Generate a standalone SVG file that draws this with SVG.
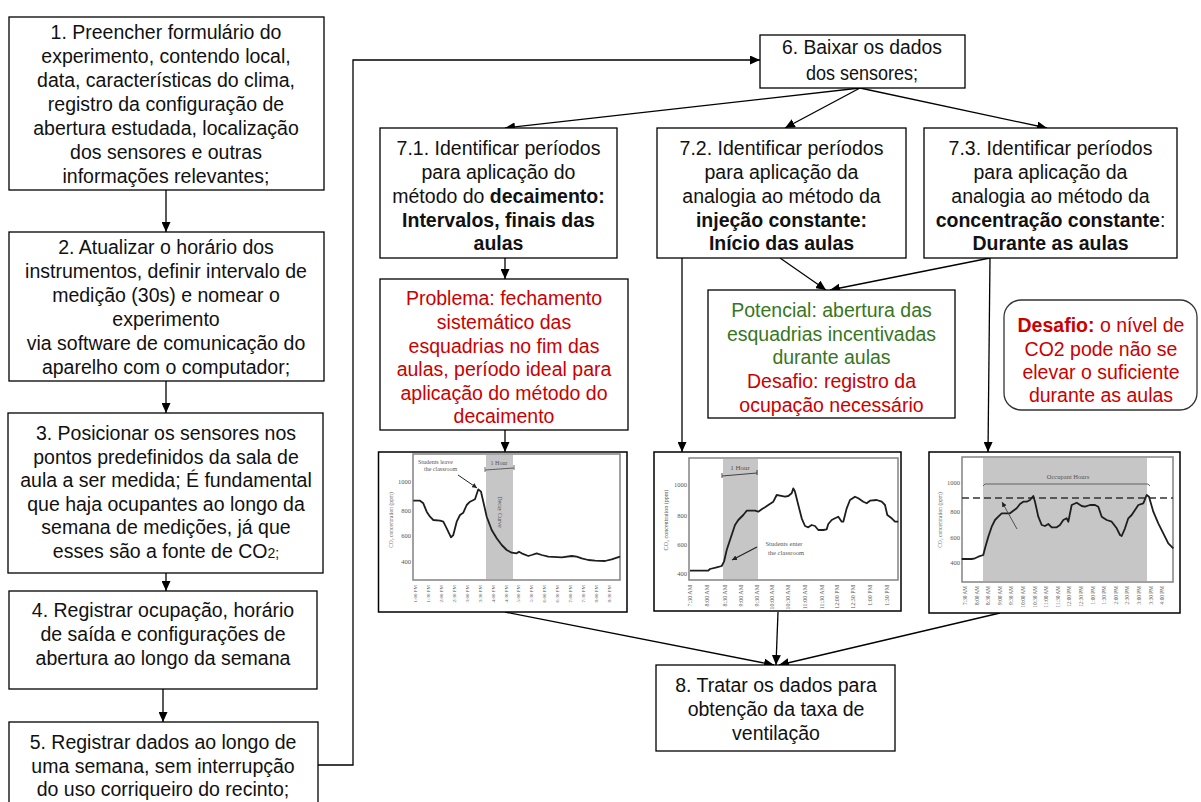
<svg xmlns="http://www.w3.org/2000/svg" width="1201" height="802" viewBox="0 0 1201 802">
<defs>
<marker id="ah" markerUnits="userSpaceOnUse" markerWidth="11" markerHeight="9" refX="10" refY="4.5" orient="auto">
<path d="M0,0 L10,4.5 L0,9 z" fill="#000"/>
</marker>
<marker id="sa" markerUnits="userSpaceOnUse" markerWidth="6" markerHeight="5" refX="5" refY="2.5" orient="auto">
<path d="M0,0 L5,2.5 L0,5 z" fill="#222"/>
</marker>
<style>
.box{fill:#fff;stroke:#000;stroke-width:1.3}
.t{font-family:"Liberation Sans",Arial,sans-serif;font-size:19.5px;fill:#111;text-anchor:middle}
.b{font-weight:bold}
.red{fill:#cc0000}
.grn{fill:#38761d}
.c{fill:none;stroke:#000;stroke-width:1.3;marker-end:url(#ah)}
.frame{fill:#fff;stroke:#8a8a8a;stroke-width:1.6}
.band{fill:#c6c6c6}
.curve{fill:none;stroke:#1e1e1e;stroke-width:1.8;stroke-linejoin:round}
.ct{font-family:"Liberation Serif","Times New Roman",serif;fill:#555}
.yl{font-size:6.5px;text-anchor:end}
.xl{text-anchor:end}
</style>
</defs>
<rect width="1201" height="802" fill="#fff"/>

<g id="connectors">
<line class="c" x1="166" y1="190" x2="166" y2="232"/>
<line class="c" x1="166" y1="381" x2="166" y2="413"/>
<line class="c" x1="166" y1="573" x2="166" y2="591"/>
<line class="c" x1="163" y1="689" x2="163" y2="722"/>
<polyline class="c" points="318,765 353,765 353,60 760,60"/>
<line class="c" x1="860" y1="88" x2="505" y2="128"/>
<line class="c" x1="860" y1="88" x2="785" y2="128"/>
<line class="c" x1="860" y1="88" x2="1047" y2="128"/>
<line class="c" x1="505" y1="258" x2="505" y2="279"/>
<line class="c" x1="682" y1="258" x2="682" y2="452"/>
<line class="c" x1="780" y1="258" x2="826" y2="290"/>
<line class="c" x1="990" y1="258" x2="830" y2="290"/>
<line class="c" x1="990" y1="258" x2="988" y2="452"/>
<line class="c" x1="505" y1="430" x2="505" y2="452"/>
<line class="c" x1="505" y1="612" x2="774" y2="665"/>
<line class="c" x1="778" y1="612" x2="776" y2="665"/>
<line class="c" x1="1000" y1="613" x2="779" y2="665"/>
</g>

<g id="n1">
<rect class="box" x="9" y="17" width="315" height="173"/>
<text class="t"><tspan x="166" y="38.5">1. Preencher formulário do</tspan><tspan x="166" y="62.5">experimento, contendo local,</tspan><tspan x="166" y="86.5">data, características do clima,</tspan><tspan x="166" y="110.5">registro da configuração de</tspan><tspan x="166" y="134.5">abertura estudada, localização</tspan><tspan x="166" y="158.5">dos sensores e outras</tspan><tspan x="166" y="182.5">informações relevantes;</tspan></text>
</g>
<g id="n2">
<rect class="box" x="9" y="232" width="315" height="149"/>
<text class="t"><tspan x="166" y="253.5">2. Atualizar o horário dos</tspan><tspan x="166" y="277.5">instrumentos, definir intervalo de</tspan><tspan x="166" y="301.5">medição (30s) e nomear o</tspan><tspan x="166" y="325.5">experimento</tspan><tspan x="166" y="349.5">via software de comunicação do</tspan><tspan x="166" y="373.5">aparelho com o computador;</tspan></text>
</g>
<g id="n3">
<rect class="box" x="8" y="413" width="315" height="160"/>
<text class="t"><tspan x="166" y="440">3. Posicionar os sensores nos</tspan><tspan x="166" y="463.5">pontos predefinidos da sala de</tspan><tspan x="166" y="487">aula a ser medida; É fundamental</tspan><tspan x="166" y="510.5">que haja ocupantes ao longo da</tspan><tspan x="166" y="534">semana de medições, já que</tspan><tspan x="166" y="557.5">esses são a fonte de CO<tspan font-size="14px">2;</tspan></tspan></text>
</g>
<g id="n4">
<rect class="box" x="9" y="591" width="308" height="98"/>
<text class="t"><tspan x="163" y="617">4. Registrar ocupação, horário</tspan><tspan x="163" y="641">de saída e configurações de</tspan><tspan x="163" y="665">abertura ao longo da semana</tspan></text>
</g>
<g id="n5">
<rect class="box" x="9" y="722" width="309" height="100"/>
<text class="t"><tspan x="163" y="749">5. Registrar dados ao longo de</tspan><tspan x="163" y="772.5">uma semana, sem interrupção</tspan><tspan x="163" y="796">do uso corriqueiro do recinto;</tspan></text>
</g>
<g id="n6">
<rect class="box" x="760" y="35" width="205" height="53"/>
<text class="t" font-size="21px"><tspan x="862" y="54" textLength="160" lengthAdjust="spacingAndGlyphs">6. Baixar os dados</tspan><tspan x="862" y="80" textLength="112" lengthAdjust="spacingAndGlyphs">dos sensores;</tspan></text>
</g>
<g id="n71">
<rect class="box" x="380" y="128" width="237" height="130"/>
<text class="t"><tspan x="498.5" y="155">7.1. Identificar períodos</tspan><tspan x="498.5" y="179">para aplicação do</tspan><tspan x="498.5" y="203">método do <tspan class="b">decaimento:</tspan></tspan><tspan x="498.5" y="227" class="b">Intervalos, finais das</tspan><tspan x="498.5" y="250" class="b">aulas</tspan></text>
</g>
<g id="n72">
<rect class="box" x="657" y="128" width="249" height="130"/>
<text class="t"><tspan x="781.5" y="155">7.2. Identificar períodos</tspan><tspan x="781.5" y="179">para aplicação da</tspan><tspan x="781.5" y="203">analogia ao método da</tspan><tspan x="781.5" y="227" class="b">injeção constante:</tspan><tspan x="781.5" y="250" class="b">Início das aulas</tspan></text>
</g>
<g id="n73">
<rect class="box" x="924" y="128" width="253" height="130"/>
<text class="t"><tspan x="1050.5" y="155">7.3. Identificar períodos</tspan><tspan x="1050.5" y="179">para aplicação da</tspan><tspan x="1050.5" y="203">analogia ao método da</tspan><tspan x="1050.5" y="227"><tspan class="b">concentração constante</tspan>:</tspan><tspan x="1050.5" y="250" class="b">Durante as aulas</tspan></text>
</g>
<g id="problema">
<rect class="box" x="380" y="279" width="248" height="151"/>
<text class="t red"><tspan x="504" y="305">Problema: fechamento</tspan><tspan x="504" y="329">sistemático das</tspan><tspan x="504" y="352.5">esquadrias no fim das</tspan><tspan x="504" y="376">aulas, período ideal para</tspan><tspan x="504" y="399.5">aplicação do método do</tspan><tspan x="504" y="423">decaimento</tspan></text>
</g>
<g id="potencial">
<rect class="box" x="708" y="290" width="247" height="128"/>
<text class="t"><tspan class="grn" x="831.5" y="317">Potencial: abertura das</tspan><tspan class="grn" x="831.5" y="340.5">esquadrias incentivadas</tspan><tspan class="grn" x="831.5" y="364">durante aulas</tspan><tspan class="red" x="831.5" y="388">Desafio: registro da</tspan><tspan class="red" x="831.5" y="411.5">ocupação necessário</tspan></text>
</g>
<g id="desafio">
<rect x="1004" y="300" width="193" height="110" rx="17" ry="17" fill="#fff" stroke="#333" stroke-width="1.3"/>
<text class="t red"><tspan x="1101" y="332"><tspan class="b">Desafio:</tspan> o nível de</tspan><tspan x="1101" y="356">CO2 pode não se</tspan><tspan x="1101" y="379">elevar o suficiente</tspan><tspan x="1101" y="402">durante as aulas</tspan></text>
</g>
<g id="n8">
<rect class="box" x="656" y="665" width="239" height="86"/>
<text class="t"><tspan x="776" y="692">8. Tratar os dados para</tspan><tspan x="776" y="716">obtenção da taxa de</tspan><tspan x="776" y="740">ventilação</tspan></text>
</g>

<g id="chart1">
<rect x="378.5" y="452" width="248.5" height="160" fill="#fff" stroke="#000" stroke-width="1.5"/>
<rect class="frame" x="413" y="454" width="207" height="126"/>
<rect class="band" x="486" y="455" width="27" height="124"/>
<polyline class="curve" points="413.3,500.7 420,500.7 423.3,503.3 426.7,511.7 430,516.7 433.3,520 440,520.7 443.3,521.7 446.7,528.3 451,537.3 453.3,535 456.7,521.7 460,515 463.3,512.7 466.7,505 470,501.7 475,499.3 478.3,489.3 481,491.7 483.3,501.7 486.7,516.7 491.7,530 496.7,538.3 501.7,545 506.7,550 511.7,552.7 516.7,553.3 519,551.7 521.7,553.3 528.3,556 531.7,555 536.7,553.3 541.7,555 548.3,556.7 561.7,557.3 571.7,556 576.7,556.7 581.7,558.3 588.3,560 595,560.7 605,561 611.7,559.3 620,556.7"/>
<g class="ct yl" font-size="6px"><text x="411" y="484">1000</text><text x="411" y="513">800</text><text x="411" y="538">600</text><text x="411" y="564">400</text></g>
<text class="ct" font-size="5.5px" text-anchor="middle" transform="translate(393,520) rotate(-90)">CO₂ concentration (ppm)</text>
<text class="ct" font-size="6px" x="418" y="464" fill="#333">Students leave</text>
<text class="ct" font-size="6px" x="424" y="471" fill="#333">the classroom</text>
<line x1="458" y1="475" x2="477" y2="488" stroke="#222" stroke-width="1" marker-end="url(#sa)"/>
<path d="M485,470 L514,468 M485,467 L485,472 M514,465 L514,470" stroke="#444" stroke-width="0.8" fill="none"/>
<text class="ct" font-size="6px" x="499" y="465" text-anchor="middle" fill="#333">1 Hour</text>
<text class="ct" font-size="6px" text-anchor="middle" fill="#333" transform="translate(498,512) rotate(90)">Decay Curve</text>
<g class="ct xl" font-size="5px">
<text transform="translate(417,585) rotate(-90)">1:00 PM</text>
<text transform="translate(430,585) rotate(-90)">1:30 PM</text>
<text transform="translate(443,585) rotate(-90)">2:00 PM</text>
<text transform="translate(456,585) rotate(-90)">2:30 PM</text>
<text transform="translate(468.5,585) rotate(-90)">3:00 PM</text>
<text transform="translate(481.5,585) rotate(-90)">3:30 PM</text>
<text transform="translate(494.5,585) rotate(-90)">4:00 PM</text>
<text transform="translate(507.5,585) rotate(-90)">4:30 PM</text>
<text transform="translate(520,585) rotate(-90)">5:00 PM</text>
<text transform="translate(533,585) rotate(-90)">5:30 PM</text>
<text transform="translate(546,585) rotate(-90)">6:00 PM</text>
<text transform="translate(559,585) rotate(-90)">6:30 PM</text>
<text transform="translate(572,585) rotate(-90)">7:00 PM</text>
<text transform="translate(584.5,585) rotate(-90)">7:30 PM</text>
<text transform="translate(597.5,585) rotate(-90)">8:00 PM</text>
<text transform="translate(610.5,585) rotate(-90)">8:30 PM</text>
</g>
</g>

<g id="chart2">
<rect x="654" y="452" width="247" height="159" fill="#fff" stroke="#000" stroke-width="1.5"/>
<rect class="frame" x="689" y="458" width="209" height="122"/>
<rect class="band" x="723" y="459" width="35" height="120"/>
<polyline class="curve" points="690,570.7 700,570.7 708.3,570.7 710,569 716.7,567.3 721.7,566 724,561.7 726.7,550 730,540 735,525 738.3,520 743.3,515 746.7,510.7 750,510.7 755,510.7 758.3,511.7 761.7,509.3 765,507.3 768.3,505 773.3,501.7 776.7,495 780,495.7 785,496.7 788.3,496 791.7,493.3 793.3,488.3 795,491.7 798.3,505 801.7,518.3 805,526 808.3,527.3 811.7,525 815,526 818.3,530 823.3,530 826.7,529.3 828.3,524 831.7,520 835,518.3 838.3,516.7 841.7,521.7 843.3,521.7 846.7,508.3 850,500 855,496.7 858.3,498.3 863.3,501.7 866.7,503.3 870,500.7 876.7,500 881.7,501.7 885,505 887.3,515 891.7,518.3 895,521.7 898.3,521.7"/>
<g class="ct yl" font-size="7.5px" fill="#444"><text x="687" y="487">1000</text><text x="687" y="518">800</text><text x="687" y="547">600</text><text x="687" y="576">400</text></g>
<text class="ct" font-size="6px" text-anchor="middle" fill="#444" transform="translate(668,520) rotate(-90)">CO₂ concentration (ppm)</text>
<path d="M722,476 L757,473 M722,473 L722,478 M757,470 L757,475" stroke="#333" stroke-width="0.9" fill="none"/>
<text class="ct" font-size="7px" x="740" y="470" text-anchor="middle" fill="#222">1 Hour</text>
<text class="ct" font-size="6.5px" x="784" y="546" text-anchor="middle" fill="#333">Students enter</text>
<text class="ct" font-size="6.5px" x="786" y="555" text-anchor="middle" fill="#333">the classroom</text>
<line x1="757" y1="547" x2="732" y2="560" stroke="#222" stroke-width="1.2" marker-end="url(#sa)"/>
<g class="ct xl" font-size="6px" fill="#555">
<text transform="translate(692,585) rotate(-90)">7:30 AM</text>
<text transform="translate(709,585) rotate(-90)">8:00 AM</text>
<text transform="translate(727,585) rotate(-90)">8:30 AM</text>
<text transform="translate(743,585) rotate(-90)">9:00 AM</text>
<text transform="translate(759,585) rotate(-90)">9:30 AM</text>
<text transform="translate(774,585) rotate(-90)">10:00 AM</text>
<text transform="translate(790,585) rotate(-90)">10:30 AM</text>
<text transform="translate(807,585) rotate(-90)">11:00 AM</text>
<text transform="translate(824,585) rotate(-90)">11:30 AM</text>
<text transform="translate(839,585) rotate(-90)">12:00 PM</text>
<text transform="translate(855,585) rotate(-90)">12:30 PM</text>
<text transform="translate(872,585) rotate(-90)">1:00 PM</text>
<text transform="translate(889,585) rotate(-90)">1:30 PM</text>
</g>
</g>

<g id="chart3">
<rect x="929" y="452" width="251" height="161" fill="#fff" stroke="#000" stroke-width="1.5"/>
<rect class="frame" x="962" y="457" width="211" height="125"/>
<rect class="band" x="983" y="458" width="164" height="123"/>
<line x1="962" y1="498" x2="1173" y2="498" stroke="#333" stroke-width="1.6" stroke-dasharray="7,4"/>
<polyline class="curve" points="961.7,559 971.7,559 975,558.3 978.3,556.7 983.3,555 985,548.3 988.3,536.7 991.7,526.7 995,520 998.3,516.7 1001.7,513.3 1005,513.3 1010,513.3 1013.3,510.7 1016.7,508.3 1020,504 1023.3,501.7 1026.7,501.7 1030,500 1033.3,496 1035,501.7 1038.3,516.7 1041.7,525 1045,526 1048.3,524 1051.7,527.3 1056.7,527.3 1060,525 1063.3,520 1066.7,518.3 1068.3,521.7 1071.7,505 1076.7,502.7 1081.7,506 1085,506.7 1090,505 1095,505 1098.3,506.7 1101.7,516.7 1106.7,520 1111.7,521.7 1116.7,528.3 1120,535 1121.7,536 1125,528.3 1128.3,518.3 1131.7,515 1135,510 1138.3,505 1143.3,503.3 1146.7,495 1149,496.7 1153.3,511.7 1158.3,523.3 1163.3,533.3 1168.3,543.3 1173.3,548.3"/>
<g class="ct yl" font-size="6.5px"><text x="960" y="485">1000</text><text x="960" y="514">800</text><text x="960" y="540">600</text><text x="960" y="565">400</text></g>
<text class="ct" font-size="5.5px" text-anchor="middle" transform="translate(942,520) rotate(-90)">CO₂ concentration (ppm)</text>
<path d="M983,486 L985,484 L1148,484 L1150,486" stroke="#555" stroke-width="0.9" fill="none"/>
<text class="ct" font-size="6.5px" x="1068" y="479" text-anchor="middle" fill="#444">Occupant Hours</text>
<line x1="1017" y1="529" x2="1002" y2="502" stroke="#444" stroke-width="0.9" marker-end="url(#sa)"/>
<g class="ct xl" font-size="5.3px">
<text transform="translate(967,586) rotate(-90)">7:30 AM</text>
<text transform="translate(978.6,586) rotate(-90)">8:00 AM</text>
<text transform="translate(990.2,586) rotate(-90)">8:30 AM</text>
<text transform="translate(1001.8,586) rotate(-90)">9:00 AM</text>
<text transform="translate(1013.4,586) rotate(-90)">9:30 AM</text>
<text transform="translate(1025,586) rotate(-90)">10:00 AM</text>
<text transform="translate(1036.6,586) rotate(-90)">10:30 AM</text>
<text transform="translate(1048.2,586) rotate(-90)">11:00 AM</text>
<text transform="translate(1059.8,586) rotate(-90)">11:30 AM</text>
<text transform="translate(1071.4,586) rotate(-90)">12:00 PM</text>
<text transform="translate(1083,586) rotate(-90)">12:30 PM</text>
<text transform="translate(1094.6,586) rotate(-90)">1:00 PM</text>
<text transform="translate(1106.2,586) rotate(-90)">1:30 PM</text>
<text transform="translate(1117.8,586) rotate(-90)">2:00 PM</text>
<text transform="translate(1129.4,586) rotate(-90)">2:30 PM</text>
<text transform="translate(1141,586) rotate(-90)">3:00 PM</text>
<text transform="translate(1152.6,586) rotate(-90)">3:30 PM</text>
<text transform="translate(1164.2,586) rotate(-90)">4:00 PM</text>
</g>
</g>
</svg>
